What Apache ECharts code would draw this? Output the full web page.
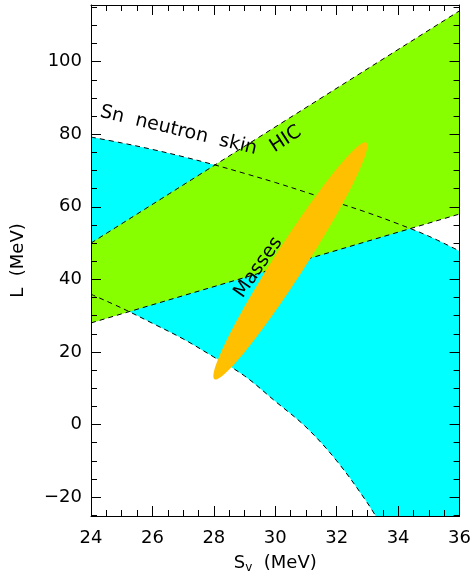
<!DOCTYPE html>
<html><head><meta charset="utf-8">
<script src="https://cdn.jsdelivr.net/npm/echarts@6/dist/echarts.min.js"></script>
<style>html,body{margin:0;padding:0;background:#fff}#c{width:474px;height:579px}</style>
</head><body><div id="c"></div>
<script>
// ---- data ----
const xRange = [24, 36];
const yRange = [-25.2, 115.6];
const xTickStep = 2;
const yMajorTicks = [-20, 0, 20, 40, 60, 80, 100];
const yMinorTicks = [-25, -15, -10, -5, 5, 10, 15, 25, 30, 35, 45, 50, 55, 65, 70, 75, 85, 90, 95, 105, 110, 115];
// HIC band boundaries (S_v, L)
const hicUpper = [[24, 50], [36, 114]];
const hicLower = [[24, 28], [36, 58]];
// Sn neutron skin band boundaries
const skinUpper = [[24, 79.2], [25, 77.6], [26, 75.8], [27, 73.8], [28, 71.6], [29, 69.2], [30, 66.7], [31, 64.0], [32, 61.2], [33, 58.4], [34, 55.3], [35, 51.9], [36, 47.8]];
const skinLower = [[24, 35.9], [25, 32.1], [26, 27.9], [27, 23.6], [28, 18.6], [29, 13.4], [30, 6.4], [31, -0.7], [32, -10.0], [33, -21.6], [33.5, -28.5]];
// Masses ellipse: major-axis end points and horizontal half-chord (MeV) at centre
const massesEnds = [[28.02, 12.5], [32.96, 77.7]];
const massesHalfWidth = 0.6;
// in-plot labels
const labelTexts = ['Sn  neutron  skin', 'HIC', 'Masses'];
const labelPos = [[26.85, 81.0], [30.34, 78.6], [29.45, 43.3]];
const labelAngles = [-13.5, 33, 55];

const GREEN = '#88ff00', CYAN = '#00ffff', ORANGE = '#ffc000';
const FONT = 'DejaVu Sans';
const SMOOTH = 0.35;

const chart = echarts.init(document.getElementById('c'), null, {renderer: 'canvas'});

function polySeries(points, color, z) {
  return {
    type: 'custom', coordinateSystem: 'cartesian2d', xAxisIndex: 0, yAxisIndex: 0,
    clip: true, z: z, silent: true,
    data: points,
    renderItem: function (params, api) {
      if (params.dataIndex !== 0) return null;
      return {
        type: 'polygon',
        shape: {points: points.map(p => api.coord(p))},
        style: {fill: color, stroke: null}
      };
    }
  };
}
function areaSeries(points, color, z) {
  return {
    type: 'line', xAxisIndex: 0, yAxisIndex: 0, data: points, showSymbol: false, symbol: 'none',
    smooth: SMOOTH, clip: true, z: z, silent: true,
    lineStyle: {width: 0, color: color},
    areaStyle: {color: color, opacity: 1, origin: 'start'}
  };
}
function dashSeries(points, z, smooth) {
  return {
    type: 'line', xAxisIndex: 0, yAxisIndex: 0, data: points, showSymbol: false, symbol: 'none',
    smooth: smooth ? SMOOTH : false, clip: true, z: z, silent: true,
    lineStyle: {color: '#000', width: 1, type: [5, 4]}
  };
}

const hicPoly = hicUpper.concat(hicLower.slice().reverse());

const ellipseSeries = {
  type: 'custom', coordinateSystem: 'cartesian2d', xAxisIndex: 0, yAxisIndex: 0,
  clip: true, z: 6, silent: true, data: massesEnds,
  renderItem: function (params, api) {
    if (params.dataIndex !== 0) return null;
    const p1 = api.coord(massesEnds[0]), p2 = api.coord(massesEnds[1]);
    const cx = (p1[0] + p2[0]) / 2, cy = (p1[1] + p2[1]) / 2;
    const dx = p2[0] - p1[0], dy = p2[1] - p1[1];
    const a = Math.sqrt(dx * dx + dy * dy) / 2;
    const ux = dx / (2 * a), uy = dy / (2 * a);
    const vx = -uy, vy = ux;
    const d = api.size([massesHalfWidth, 0])[0];
    const th = Math.atan2(Math.abs(dy), Math.abs(dx));
    const b = d * Math.sin(th) / Math.sqrt(Math.max(1e-6, 1 - Math.pow(d * Math.cos(th) / a, 2)));
    const pts = [];
    for (let i = 0; i < 120; i++) {
      const t = i / 120 * Math.PI * 2;
      pts.push([cx + ux * a * Math.cos(t) + vx * b * Math.sin(t), cy + uy * a * Math.cos(t) + vy * b * Math.sin(t)]);
    }
    return {type: 'polygon', shape: {points: pts}, style: {fill: ORANGE, stroke: null}};
  }
};

const labelSeries = {
  type: 'custom', coordinateSystem: 'cartesian2d', xAxisIndex: 0, yAxisIndex: 0,
  clip: false, z: 10, silent: true, data: labelPos,
  renderItem: function (params, api) {
    const i = params.dataIndex;
    const p = api.coord(labelPos[i]);
    return {
      type: 'text', x: p[0], y: p[1], rotation: labelAngles[i] * Math.PI / 180,
      style: {text: labelTexts[i], font: '19px "' + FONT + '"', fill: '#000', align: 'center', verticalAlign: 'middle'}
    };
  }
};

const labelStyle = {color: '#000', fontSize: 18, fontFamily: FONT};
const minusFmt = v => String(v).replace('-', '\u2212');
const AZ = 50;

const option = {
  backgroundColor: '#fff',
  animation: false,
  grid: {left: 91, right: 14, top: 5, bottom: 60, containLabel: false},
  xAxis: [
    {type: 'value', position: 'bottom', min: xRange[0], max: xRange[1], interval: xTickStep, z: AZ,
     axisLine: {show: true, onZero: false, lineStyle: {color: '#000', width: 1}},
     axisTick: {show: true, inside: true, length: 10, lineStyle: {color: '#000'}},
     minorTick: {show: true, splitNumber: 4, length: 6, lineStyle: {color: '#000'}},
     axisLabel: Object.assign({margin: 13, formatter: minusFmt}, labelStyle),
     splitLine: {show: false},
     name: '{s|S}{v|v}{s|  (MeV)}', nameLocation: 'middle', nameGap: 36,
     nameTextStyle: {color: '#000', fontFamily: FONT, rich: {
       s: {fontSize: 18, fontFamily: FONT, color: '#000'},
       v: {fontSize: 12, fontFamily: FONT, color: '#000', padding: [10, 0, 0, 0]}
     }}},
    {type: 'value', position: 'top', min: xRange[0], max: xRange[1], interval: xTickStep, z: AZ,
     axisLine: {show: true, onZero: false, lineStyle: {color: '#000', width: 1}},
     axisTick: {show: true, inside: true, length: 10, lineStyle: {color: '#000'}},
     minorTick: {show: true, splitNumber: 4, length: 6, lineStyle: {color: '#000'}},
     axisLabel: {show: false}, splitLine: {show: false}}
  ],
  yAxis: [
    {type: 'value', position: 'left', min: yRange[0], max: yRange[1], z: AZ,
     axisLine: {show: true, onZero: false, lineStyle: {color: '#000', width: 1}},
     axisTick: {show: true, inside: true, length: 10, customValues: yMajorTicks, lineStyle: {color: '#000'}},
     axisLabel: Object.assign({margin: 9, customValues: yMajorTicks, formatter: minusFmt}, labelStyle),
     splitLine: {show: false},
     name: 'L  (MeV)', nameLocation: 'middle', nameRotate: 90, nameGap: 64,
     nameTextStyle: {color: '#000', fontSize: 18, fontFamily: FONT}},
    {type: 'value', position: 'left', min: yRange[0], max: yRange[1], z: AZ,
     axisLine: {show: false},
     axisTick: {show: true, inside: true, length: 6, customValues: yMinorTicks, lineStyle: {color: '#000'}},
     axisLabel: {show: false}, splitLine: {show: false}},
    {type: 'value', position: 'right', min: yRange[0], max: yRange[1], z: AZ,
     axisLine: {show: true, onZero: false, lineStyle: {color: '#000', width: 1}},
     axisTick: {show: true, inside: true, length: 10, customValues: yMajorTicks, lineStyle: {color: '#000'}},
     axisLabel: {show: false}, splitLine: {show: false}},
    {type: 'value', position: 'right', min: yRange[0], max: yRange[1], z: AZ,
     axisLine: {show: false},
     axisTick: {show: true, inside: true, length: 6, customValues: yMinorTicks, lineStyle: {color: '#000'}},
     axisLabel: {show: false}, splitLine: {show: false}}
  ],
  series: [
    areaSeries(skinUpper, CYAN, 1),
    areaSeries(skinLower, '#ffffff', 2),
    polySeries(hicPoly, GREEN, 3),
    dashSeries(hicUpper, 4, false),
    dashSeries(hicLower, 4, false),
    dashSeries(skinUpper, 4, true),
    dashSeries(skinLower, 4, true),
    ellipseSeries,
    labelSeries
  ]
};
chart.setOption(option);
</script>
</body></html>
